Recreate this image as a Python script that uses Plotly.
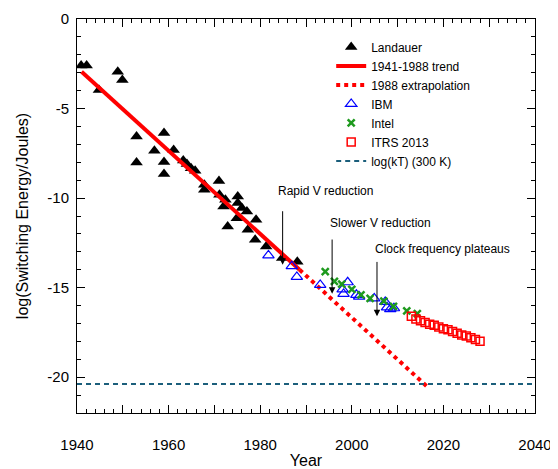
import plotly.graph_objects as go

# ---------------- data ----------------
landauer_years = [1940.9, 1942.1, 1944.8, 1948.9, 1949.9, 1953.0, 1953.0, 1956.9, 1959.0, 1959.0,
                  1959.0, 1961.1, 1963.2, 1964.0, 1964.9, 1965.8, 1967.8, 1967.8, 1971.0, 1971.1,
                  1972.4, 1972.0, 1975.1, 1975.1, 1976.0, 1977.1, 1974.9, 1972.9, 1977.3, 1979.1,
                  1978.9, 1981.3, 1984.8, 1988.1]
landauer_vals = [-2.60, -2.60, -3.96, -2.94, -3.40, -6.56, -8.01, -7.36, -6.37, -7.99,
                 -8.66, -7.31, -7.90, -8.10, -8.33, -8.48, -9.26, -9.54, -9.04, -9.82,
                 -10.09, -10.47, -9.91, -10.28, -10.56, -10.75, -11.12, -11.58, -11.77, -11.21,
                 -12.33, -12.70, -13.35, -13.55]

trend_years = [1941, 1988.6]
trend_vals = [-2.94, -14.0]

extrap_years = [1988.6, 2016.6]
extrap_vals = [-14.0, -20.56]

ibm_years = [1981.8, 1986.9, 1988.0, 1993.1, 1998.0, 1998.2, 1999.1, 2001.0, 2001.6, 2004.9,
             2007.3, 2007.7, 2008.4, 2009.2]
ibm_vals = [-13.2, -13.8, -14.4, -14.85, -15.1, -15.35, -14.7, -15.4, -15.5, -15.6,
            -15.8, -16.1, -16.2, -16.15]

intel_years = [1994.2, 1996.2, 1997.8, 2000.0, 2002.0, 2004.0, 2007.0, 2009.1, 2012.0, 2014.3]
intel_vals = [-14.1, -14.65, -14.8, -15.1, -15.4, -15.6, -15.75, -16.05, -16.3, -16.45]

itrs_years = [2013, 2014, 2015, 2016, 2017, 2018, 2019, 2020, 2021, 2022, 2023, 2024, 2025, 2026, 2027, 2028]
itrs_vals = [-16.6, -16.75, -16.85, -16.95, -17.05, -17.1, -17.2, -17.3, -17.35, -17.45,
             -17.55, -17.65, -17.7, -17.8, -17.9, -18.0]

kt_years = [1940, 2040]
kt_vals = [-20.38, -20.38]

annot_texts = ["Rapid V reduction", "Slower V reduction", "Clock frequency plateaus"]
annot_text_x = [1983.5, 1994.9, 2004.7]
annot_text_y = [-9.58, -11.41, -12.84]
arrow_x = [1984.9, 1995.7, 2005.5]
arrow_tail_y = [-10.65, -12.23, -13.48]
arrow_tip_y = [-13.72, -15.34, -16.6]

x_tickvals = [1940, 1950, 1960, 1970, 1980, 1990, 2000, 2010, 2020, 2030, 2040]
x_ticktext = ["1940", "", "1960", "", "1980", "", "2000", "", "2020", "", "2040"]
y_tickvals = [0, -5, -10, -15, -20]
y_ticktext = ["0", "-5", "-10", "-15", "-20"]

FONT = "Liberation Sans, Arial, Helvetica, sans-serif"

fig = go.Figure()

fig.add_trace(go.Scatter(x=landauer_years, y=landauer_vals, mode="markers", name="Landauer",
                         marker=dict(symbol="triangle-up", size=11, color="black")))
fig.add_trace(go.Scatter(x=trend_years, y=trend_vals, mode="lines", name="1941-1988 trend",
                         line=dict(color="#ff0000", width=4)))
fig.add_trace(go.Scatter(x=extrap_years, y=extrap_vals, mode="lines", name="1988 extrapolation",
                         line=dict(color="#ff0000", width=4, dash="dot")))
fig.add_trace(go.Scatter(x=ibm_years, y=ibm_vals, mode="markers", name="IBM",
                         marker=dict(symbol="triangle-up-open", size=10, color="#0000ff",
                                     line=dict(width=1.2, color="#0000ff"))))
fig.add_trace(go.Scatter(x=intel_years, y=intel_vals, mode="markers", name="Intel",
                         marker=dict(symbol="x-thin", size=7, color="#1e9a1e",
                                     line=dict(width=2.5, color="#1e9a1e"))))
fig.add_trace(go.Scatter(x=itrs_years, y=itrs_vals, mode="markers", name="ITRS 2013",
                         marker=dict(symbol="square-open", size=8, color="#ff0000",
                                     line=dict(width=1.5, color="#ff0000"))))
fig.add_trace(go.Scatter(x=kt_years, y=kt_vals, mode="lines", name="log(kT) (300 K)",
                         line=dict(color="#1b5e7b", width=2, dash="5px,4px")))

for t, tx, ty in zip(annot_texts, annot_text_x, annot_text_y):
    fig.add_annotation(x=tx, y=ty, text=t, showarrow=False, xanchor="left", yanchor="middle",
                       font=dict(family=FONT, size=12, color="black"))
for ax_, ty0, ty1 in zip(arrow_x, arrow_tail_y, arrow_tip_y):
    fig.add_annotation(x=ax_, y=ty1, ax=ax_, ay=ty0, axref="x", ayref="y", xref="x", yref="y",
                       text="", showarrow=True, arrowhead=2, arrowsize=1.3, arrowwidth=1,
                       arrowcolor="black", standoff=0)

axis_common = dict(showline=True, linecolor="black", linewidth=1, mirror="ticks",
                   ticks="inside", tickcolor="black", showgrid=False, zeroline=False,
                   automargin=False, ticklabeloverflow="allow",
                   tickfont=dict(family=FONT, size=15, color="black"))

fig.update_xaxes(range=[1940, 2040], tickmode="array", tickvals=x_tickvals, ticktext=x_ticktext,
                 ticklen=8, ticklabelstandoff=18,
                 minor=dict(dtick=2, ticklen=4, ticks="inside", tickcolor="black", showgrid=False),
                 title=dict(text="Year", font=dict(family=FONT, size=16, color="black"), standoff=2),
                 **axis_common)
fig.update_yaxes(range=[-22, 0], tickmode="array", tickvals=y_tickvals, ticktext=y_ticktext,
                 ticklen=8, ticklabelstandoff=4,
                 minor=dict(dtick=1, ticklen=4, ticks="inside", tickcolor="black", showgrid=False),
                 title=dict(text="log(Switching Energy/Joules)", font=dict(family=FONT, size=16, color="black"),
                            standoff=14),
                 **axis_common)

# The page body adds an 8px margin, so the figure is sized/offset to compensate.
fig.update_layout(
    width=550, height=461,
    margin=dict(l=69, r=23, t=11, b=56, autoexpand=False),
    paper_bgcolor="white", plot_bgcolor="white",
    font=dict(family=FONT, size=12, color="black"),
    showlegend=True,
    legend=dict(x=0.555, y=0.966, xanchor="left", yanchor="top", bgcolor="rgba(0,0,0,0)",
                font=dict(family=FONT, size=12, color="black"), itemwidth=30,
                tracegroupgap=0),
)

fig.write_html("out.html")
